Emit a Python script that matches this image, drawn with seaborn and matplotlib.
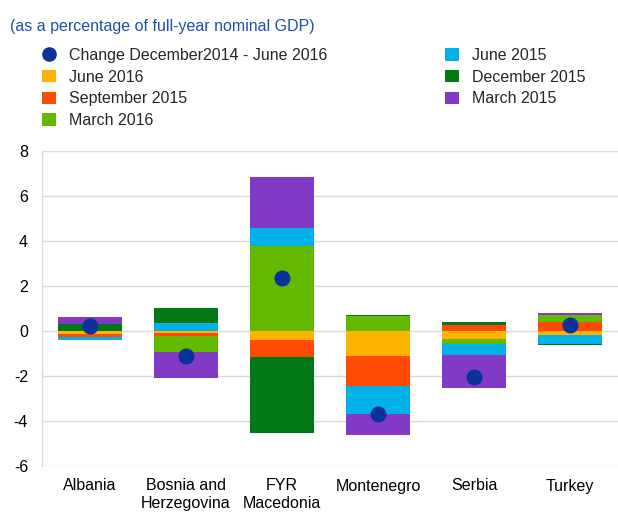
import numpy as np
import pandas as pd
import matplotlib
matplotlib.use("Agg")
import matplotlib.pyplot as plt
from matplotlib.patches import Patch
from matplotlib.lines import Line2D
import seaborn as sns

# Data (percentage of full-year nominal GDP)
countries = ["Albania", "Bosnia and\nHerzegovina", "FYR\nMacedonia", "Montenegro", "Serbia", "Turkey"]
jun_2016 = [-0.13, -0.10, -0.41, -1.09, -0.35, -0.18]
sep_2015 = [-0.15, -0.13, -0.75, -1.37, 0.26, 0.38]
mar_2016 = [0.00, -0.71, 3.78, 0.65, -0.24, 0.32]
jun_2015 = [-0.11, 0.36, 0.82, -1.21, -0.49, -0.40]
dec_2015 = [0.30, 0.65, -3.38, 0.06, 0.15, -0.03]
mar_2015 = [0.31, -1.16, 2.24, -0.97, -1.46, 0.12]
change_total = [0.21, -1.10, 2.35, -3.71, -2.04, 0.25]

series_names = ["June 2016", "September 2015", "March 2016", "June 2015", "December 2015", "March 2015"]
series_values = [jun_2016, sep_2015, mar_2016, jun_2015, dec_2015, mar_2015]
series_colors = ["#FFB400", "#FF4B00", "#65B800", "#00B1EA", "#007816", "#8139C6"]
dot_color = "#0a3299"

sns.set_style("white")
plt.rcParams["font.family"] = ["Liberation Sans", "DejaVu Sans"]
plt.rcParams["axes.unicode_minus"] = False

fig = plt.figure(figsize=(6.18, 5.26), dpi=100)
ax = fig.add_axes([42 / 618, 60 / 526, 576 / 618, 315 / 526])

vals = np.array(series_values)
pos_cum = np.cumsum(np.clip(vals, 0, None), axis=0)
neg_cum = np.cumsum(np.clip(vals, None, 0), axis=0)

# stack by overdrawing cumulative bars, outermost layer first
for k in range(len(series_names) - 1, -1, -1):
    for cum in (pos_cum, neg_cum):
        sns.barplot(x=countries, y=cum[k], color=series_colors[k], width=0.66,
                    saturation=1, linewidth=0, ax=ax, zorder=2)

sns.pointplot(x=countries, y=change_total, color=dot_color, linestyle="none",
              markers="o", markersize=9.5, errorbar=None, ax=ax, zorder=5)

ax.set_ylim(-6, 8)
ax.set_xlim(-0.5, 5.5)
ax.set_yticks(range(-6, 9, 2))
ax.yaxis.grid(True, color="#d9d9d9", linewidth=1, zorder=0)
ax.set_axisbelow(True)
for s in ax.spines.values():
    s.set_visible(False)
ax.spines["left"].set_visible(True)
ax.spines["left"].set_color("#d9d9d9")
ax.spines["left"].set_linewidth(1)
ax.tick_params(axis="both", length=0, labelsize=11.5, colors="#000000")
ax.tick_params(axis="y", pad=10)
ax.tick_params(axis="x", pad=9)
ax.set_xlabel("")
ax.set_ylabel("")

fig.text(10 / 618, 1 - 26 / 526, "(as a percentage of full-year nominal GDP)",
         color="#1f4fad", fontsize=11.5, va="center", ha="left")

handles = [Line2D([0], [0], marker="o", color="none", markerfacecolor=dot_color,
                  markeredgecolor=dot_color, markersize=9.5)]
handles += [Patch(facecolor=c, edgecolor="none") for c in series_colors]
labels = ["Change December2014 - June 2016"] + series_names
fig.legend(handles, labels, loc="upper left", bbox_to_anchor=(42 / 618, 1 - 48 / 526),
           ncol=2, frameon=False, fontsize=11.5, handlelength=0.875, handleheight=0.8,
           handletextpad=0.8, columnspacing=7.4, labelspacing=0.42, borderaxespad=0,
           borderpad=0)

fig.savefig("out.png", dpi=100)
